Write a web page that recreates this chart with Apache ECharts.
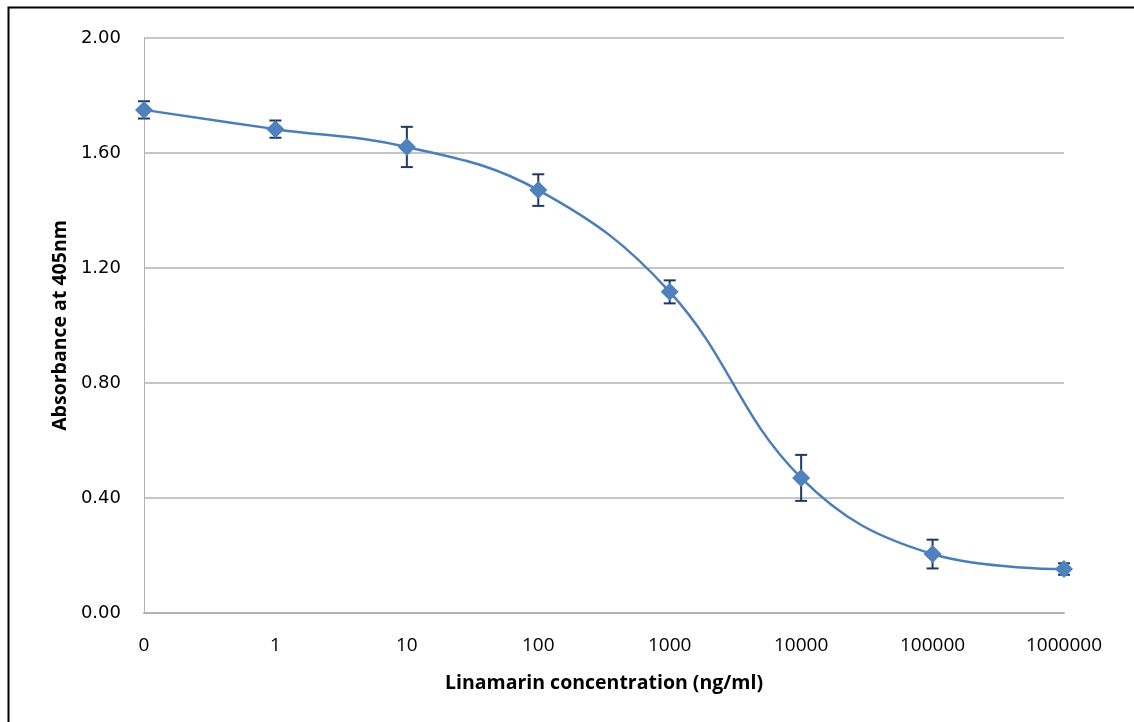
<!DOCTYPE html>
<html>
<head>
<meta charset="utf-8">
<script src="https://cdn.jsdelivr.net/npm/echarts@6/dist/echarts.min.js"></script>
<style>
html, body { margin: 0; padding: 0; background: #fff; }
#chart { width: 1134px; height: 722px; }
</style>
</head>
<body>
<div id="chart"></div>
<script>
// 浓度 (ng/ml) 类目
var concentrations = ['0', '1', '10', '100', '1000', '10000', '100000', '1000000'];
// 405nm 吸光度均值
var absorbance = [1.75, 1.683, 1.621, 1.471, 1.117, 0.47, 0.205, 0.153];
// 误差 (±)
var errors = [0.03, 0.03, 0.07, 0.055, 0.04, 0.08, 0.05, 0.02];

var labelFont = '"DejaVu Sans", Verdana, sans-serif';
var titleFont = '"Liberation Sans Narrow", "Open Sans", Lato, sans-serif';

var errData = concentrations.map(function (c, i) {
    return [i, absorbance[i] - errors[i], absorbance[i] + errors[i]];
});

var chart = echarts.init(document.getElementById('chart'));
var option = {
    animation: false,
    backgroundColor: '#fff',
    graphic: [{
        type: 'rect',
        shape: { x: 8.5, y: 7.5, width: 1200, height: 800 },
        style: { fill: 'none', stroke: '#000', lineWidth: 2 },
        silent: true
    }],
    grid: { left: 144, right: 70, top: 38, bottom: 109 },
    xAxis: {
        type: 'category',
        data: concentrations,
        boundaryGap: false,
        name: 'Linamarin concentration (ng/ml)',
        nameLocation: 'middle',
        nameGap: 60,
        nameTextStyle: { fontFamily: titleFont, fontWeight: 'bold', fontSize: 19.5, color: '#000' },
        axisLine: { lineStyle: { color: '#b3b3b3', width: 2 } },
        axisTick: { show: false },
        axisLabel: { fontFamily: titleFont, fontSize: 19, color: '#000', margin: 23, interval: 0 },
        splitLine: { show: false }
    },
    yAxis: {
        type: 'value',
        min: 0,
        max: 2,
        interval: 0.4,
        name: 'Absorbance at 405nm',
        nameLocation: 'middle',
        nameGap: 74,
        nameTextStyle: { fontFamily: titleFont, fontWeight: 'bold', fontSize: 19.5, color: '#000' },
        axisLine: { show: true, lineStyle: { color: '#b3b3b3', width: 1 } },
        axisTick: { show: false },
        axisLabel: {
            fontFamily: labelFont, fontSize: 18, color: '#000', margin: 23,
            formatter: function (v) { return v.toFixed(2); }
        },
        splitLine: { lineStyle: { color: '#b3b3b3', width: 1.5 } }
    },
    series: [
        {
            type: 'custom',
            data: errData,
            z: 3,
            renderItem: function (params, api) {
                var x = api.value(0);
                var lo = api.coord([x, api.value(1)]);
                var hi = api.coord([x, api.value(2)]);
                var w = 6;
                var st = { stroke: '#1f3864', lineWidth: 2 };
                return {
                    type: 'group',
                    children: [
                        { type: 'line', shape: { x1: lo[0], y1: lo[1], x2: hi[0], y2: hi[1] }, style: st },
                        { type: 'line', shape: { x1: lo[0] - w, y1: lo[1], x2: lo[0] + w, y2: lo[1] }, style: st },
                        { type: 'line', shape: { x1: hi[0] - w, y1: hi[1], x2: hi[0] + w, y2: hi[1] }, style: st }
                    ]
                };
            }
        },
        {
            type: 'line',
            data: absorbance,
            smooth: 0.4,
            z: 4,
            symbol: 'diamond',
            symbolSize: 18,
            lineStyle: { color: '#4a7ebb', width: 2.5 },
            itemStyle: { color: '#4f81bd' }
        }
    ]
};
chart.setOption(option);
</script>
</body>
</html>
